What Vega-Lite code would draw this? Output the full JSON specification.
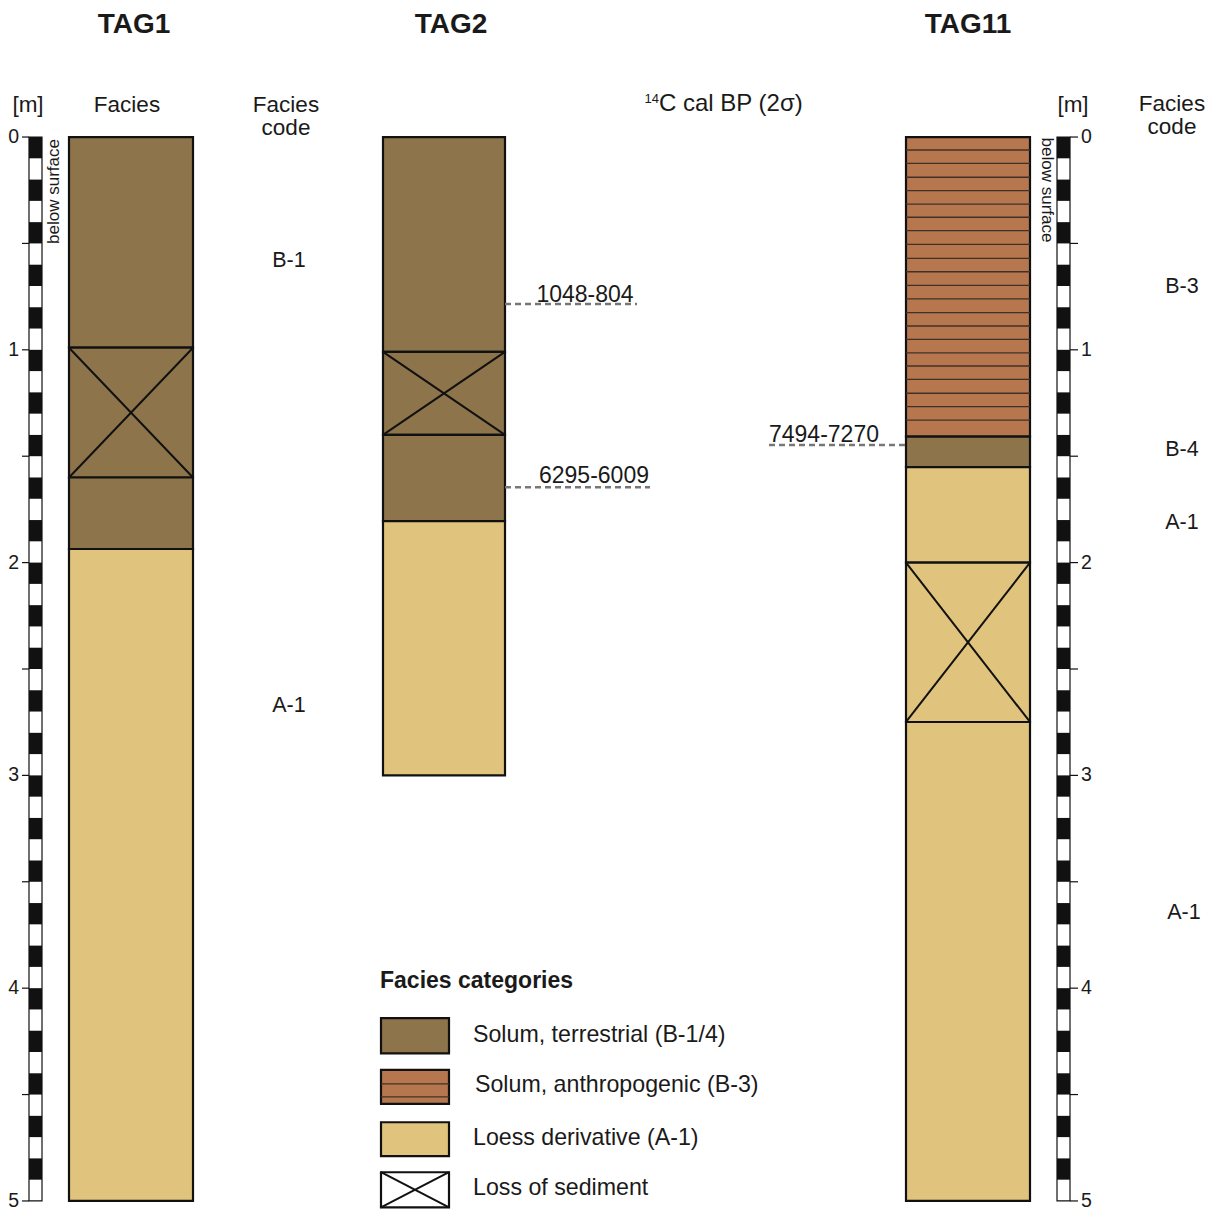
{
  "$schema": "https://vega.github.io/schema/vega-lite/v6.json",
  "width": 1221,
  "height": 1215,
  "autosize": {"type": "fit", "contains": "padding"},
  "padding": 0,
  "background": "white",
  "config": {"view": {"stroke": null}, "text": {"font": "Liberation Sans", "color": "#1a1a1a"}},
  "datasets": {
    "strata": [
      {"col": "TAG1", "x": 69, "x2": 193, "y": 0, "y2": 0.99, "facies": "Solum, terrestrial"},
      {"col": "TAG1", "x": 69, "x2": 193, "y": 0.99, "y2": 1.6, "facies": "Solum, terrestrial"},
      {"col": "TAG1", "x": 69, "x2": 193, "y": 1.6, "y2": 1.936, "facies": "Solum, terrestrial"},
      {"col": "TAG1", "x": 69, "x2": 193, "y": 1.936, "y2": 5.0, "facies": "Loess derivative"},
      {"col": "TAG2", "x": 383, "x2": 505, "y": 0, "y2": 1.01, "facies": "Solum, terrestrial"},
      {"col": "TAG2", "x": 383, "x2": 505, "y": 1.01, "y2": 1.4, "facies": "Solum, terrestrial"},
      {"col": "TAG2", "x": 383, "x2": 505, "y": 1.4, "y2": 1.805, "facies": "Solum, terrestrial"},
      {"col": "TAG2", "x": 383, "x2": 505, "y": 1.805, "y2": 3.0, "facies": "Loess derivative"},
      {"col": "TAG11", "x": 906, "x2": 1030, "y": 0, "y2": 1.408, "facies": "Solum, anthropogenic"},
      {"col": "TAG11", "x": 906, "x2": 1030, "y": 1.408, "y2": 1.551, "facies": "Solum, terrestrial"},
      {"col": "TAG11", "x": 906, "x2": 1030, "y": 1.551, "y2": 2.0, "facies": "Loess derivative"},
      {"col": "TAG11", "x": 906, "x2": 1030, "y": 2.0, "y2": 2.749, "facies": "Loess derivative"},
      {"col": "TAG11", "x": 906, "x2": 1030, "y": 2.749, "y2": 5.0, "facies": "Loess derivative"},
      {"col": "legend", "x": 381, "x2": 449, "y": 4.141, "y2": 4.306, "facies": "Solum, terrestrial"},
      {"col": "legend", "x": 381, "x2": 449, "y": 4.384, "y2": 4.544, "facies": "Solum, anthropogenic"},
      {"col": "legend", "x": 381, "x2": 449, "y": 4.63, "y2": 4.789, "facies": "Loess derivative"},
      {"col": "legend", "x": 381, "x2": 449, "y": 4.865, "y2": 5.03, "facies": "Loss of sediment"}
    ],
    "hatch": [
      {"x": 906, "x2": 1030, "y": 0.061}, {"x": 906, "x2": 1030, "y": 0.124}, {"x": 906, "x2": 1030, "y": 0.189},
      {"x": 906, "x2": 1030, "y": 0.252}, {"x": 906, "x2": 1030, "y": 0.315}, {"x": 906, "x2": 1030, "y": 0.377},
      {"x": 906, "x2": 1030, "y": 0.44}, {"x": 906, "x2": 1030, "y": 0.504}, {"x": 906, "x2": 1030, "y": 0.57},
      {"x": 906, "x2": 1030, "y": 0.633}, {"x": 906, "x2": 1030, "y": 0.697}, {"x": 906, "x2": 1030, "y": 0.761},
      {"x": 906, "x2": 1030, "y": 0.825}, {"x": 906, "x2": 1030, "y": 0.888}, {"x": 906, "x2": 1030, "y": 0.951},
      {"x": 906, "x2": 1030, "y": 1.014}, {"x": 906, "x2": 1030, "y": 1.076}, {"x": 906, "x2": 1030, "y": 1.139},
      {"x": 906, "x2": 1030, "y": 1.204}, {"x": 906, "x2": 1030, "y": 1.267}, {"x": 906, "x2": 1030, "y": 1.33},
      {"x": 381, "x2": 449, "y": 4.45}, {"x": 381, "x2": 449, "y": 4.511}
    ],
    "crosses": [
      {"x": 69, "x2": 193, "y": 0.99, "y2": 1.6}, {"x": 69, "x2": 193, "y": 1.6, "y2": 0.99},
      {"x": 383, "x2": 505, "y": 1.01, "y2": 1.4}, {"x": 383, "x2": 505, "y": 1.4, "y2": 1.01},
      {"x": 906, "x2": 1030, "y": 2.0, "y2": 2.749}, {"x": 906, "x2": 1030, "y": 2.749, "y2": 2.0},
      {"x": 381, "x2": 449, "y": 4.865, "y2": 5.03}, {"x": 381, "x2": 449, "y": 5.03, "y2": 4.865}
    ],
    "bars": [
      {"x": 29, "x2": 42, "y": 0, "y2": 5}, {"x": 1057, "x2": 1070, "y": 0, "y2": 5}
    ],
    "segments": [
      {"x": 29, "x2": 42, "y": 0.0, "y2": 0.1}, {"x": 29, "x2": 42, "y": 0.2, "y2": 0.3}, {"x": 29, "x2": 42, "y": 0.4, "y2": 0.5},
      {"x": 29, "x2": 42, "y": 0.6, "y2": 0.7}, {"x": 29, "x2": 42, "y": 0.8, "y2": 0.9}, {"x": 29, "x2": 42, "y": 1.0, "y2": 1.1},
      {"x": 29, "x2": 42, "y": 1.2, "y2": 1.3}, {"x": 29, "x2": 42, "y": 1.4, "y2": 1.5}, {"x": 29, "x2": 42, "y": 1.6, "y2": 1.7},
      {"x": 29, "x2": 42, "y": 1.8, "y2": 1.9}, {"x": 29, "x2": 42, "y": 2.0, "y2": 2.1}, {"x": 29, "x2": 42, "y": 2.2, "y2": 2.3},
      {"x": 29, "x2": 42, "y": 2.4, "y2": 2.5}, {"x": 29, "x2": 42, "y": 2.6, "y2": 2.7}, {"x": 29, "x2": 42, "y": 2.8, "y2": 2.9},
      {"x": 29, "x2": 42, "y": 3.0, "y2": 3.1}, {"x": 29, "x2": 42, "y": 3.2, "y2": 3.3}, {"x": 29, "x2": 42, "y": 3.4, "y2": 3.5},
      {"x": 29, "x2": 42, "y": 3.6, "y2": 3.7}, {"x": 29, "x2": 42, "y": 3.8, "y2": 3.9}, {"x": 29, "x2": 42, "y": 4.0, "y2": 4.1},
      {"x": 29, "x2": 42, "y": 4.2, "y2": 4.3}, {"x": 29, "x2": 42, "y": 4.4, "y2": 4.5}, {"x": 29, "x2": 42, "y": 4.6, "y2": 4.7},
      {"x": 29, "x2": 42, "y": 4.8, "y2": 4.9},
      {"x": 1057, "x2": 1070, "y": 0.0, "y2": 0.1}, {"x": 1057, "x2": 1070, "y": 0.2, "y2": 0.3}, {"x": 1057, "x2": 1070, "y": 0.4, "y2": 0.5},
      {"x": 1057, "x2": 1070, "y": 0.6, "y2": 0.7}, {"x": 1057, "x2": 1070, "y": 0.8, "y2": 0.9}, {"x": 1057, "x2": 1070, "y": 1.0, "y2": 1.1},
      {"x": 1057, "x2": 1070, "y": 1.2, "y2": 1.3}, {"x": 1057, "x2": 1070, "y": 1.4, "y2": 1.5}, {"x": 1057, "x2": 1070, "y": 1.6, "y2": 1.7},
      {"x": 1057, "x2": 1070, "y": 1.8, "y2": 1.9}, {"x": 1057, "x2": 1070, "y": 2.0, "y2": 2.1}, {"x": 1057, "x2": 1070, "y": 2.2, "y2": 2.3},
      {"x": 1057, "x2": 1070, "y": 2.4, "y2": 2.5}, {"x": 1057, "x2": 1070, "y": 2.6, "y2": 2.7}, {"x": 1057, "x2": 1070, "y": 2.8, "y2": 2.9},
      {"x": 1057, "x2": 1070, "y": 3.0, "y2": 3.1}, {"x": 1057, "x2": 1070, "y": 3.2, "y2": 3.3}, {"x": 1057, "x2": 1070, "y": 3.4, "y2": 3.5},
      {"x": 1057, "x2": 1070, "y": 3.6, "y2": 3.7}, {"x": 1057, "x2": 1070, "y": 3.8, "y2": 3.9}, {"x": 1057, "x2": 1070, "y": 4.0, "y2": 4.1},
      {"x": 1057, "x2": 1070, "y": 4.2, "y2": 4.3}, {"x": 1057, "x2": 1070, "y": 4.4, "y2": 4.5}, {"x": 1057, "x2": 1070, "y": 4.6, "y2": 4.7},
      {"x": 1057, "x2": 1070, "y": 4.8, "y2": 4.9}
    ],
    "ticks": [
      {"x": 22, "x2": 29, "y": 0}, {"x": 22, "x2": 29, "y": 0.5}, {"x": 22, "x2": 29, "y": 1}, {"x": 22, "x2": 29, "y": 1.5},
      {"x": 22, "x2": 29, "y": 2}, {"x": 22, "x2": 29, "y": 2.5}, {"x": 22, "x2": 29, "y": 3}, {"x": 22, "x2": 29, "y": 3.5},
      {"x": 22, "x2": 29, "y": 4}, {"x": 22, "x2": 29, "y": 4.5}, {"x": 22, "x2": 29, "y": 5},
      {"x": 1070, "x2": 1078, "y": 0}, {"x": 1070, "x2": 1078, "y": 0.5}, {"x": 1070, "x2": 1078, "y": 1}, {"x": 1070, "x2": 1078, "y": 1.5},
      {"x": 1070, "x2": 1078, "y": 2}, {"x": 1070, "x2": 1078, "y": 2.5}, {"x": 1070, "x2": 1078, "y": 3}, {"x": 1070, "x2": 1078, "y": 3.5},
      {"x": 1070, "x2": 1078, "y": 4}, {"x": 1070, "x2": 1078, "y": 4.5}, {"x": 1070, "x2": 1078, "y": 5}
    ],
    "leftLabels": [
      {"x": 19, "y": 0, "t": "0"}, {"x": 19, "y": 1, "t": "1"}, {"x": 19, "y": 2, "t": "2"},
      {"x": 19, "y": 3, "t": "3"}, {"x": 19, "y": 4, "t": "4"}, {"x": 19, "y": 5, "t": "5"}
    ],
    "rightLabels": [
      {"x": 1081, "y": 0, "t": "0"}, {"x": 1081, "y": 1, "t": "1"}, {"x": 1081, "y": 2, "t": "2"},
      {"x": 1081, "y": 3, "t": "3"}, {"x": 1081, "y": 4, "t": "4"}, {"x": 1081, "y": 5, "t": "5"}
    ],
    "dates": [
      {"x": 505, "x2": 637, "y": 0.785, "lx": 585, "ly": 0.774, "t": "1048-804"},
      {"x": 505, "x2": 650, "y": 1.646, "lx": 594, "ly": 1.626, "t": "6295-6009"},
      {"x": 769, "x2": 906, "y": 1.447, "lx": 824, "ly": 1.431, "t": "7494-7270"}
    ],
    "titles": [
      {"x": 134, "y": -0.489, "t": "TAG1"},
      {"x": 451, "y": -0.489, "t": "TAG2"},
      {"x": 968, "y": -0.489, "t": "TAG11"}
    ],
    "headings": [
      {"x": 28, "y": -0.1175, "t": "[m]"},
      {"x": 127, "y": -0.1175, "t": "Facies"},
      {"x": 286, "y": -0.1175, "t": "Facies"},
      {"x": 286, "y": -0.0095, "t": "code"},
      {"x": 1073, "y": -0.1175, "t": "[m]"},
      {"x": 1172, "y": -0.122, "t": "Facies"},
      {"x": 1172, "y": -0.014, "t": "code"}
    ],
    "codes": [
      {"x": 289, "y": 0.611, "t": "B-1"},
      {"x": 289, "y": 2.702, "t": "A-1"},
      {"x": 1182, "y": 0.735, "t": "B-3"},
      {"x": 1182, "y": 1.501, "t": "B-4"},
      {"x": 1182, "y": 1.84, "t": "A-1"},
      {"x": 1184, "y": 3.677, "t": "A-1"}
    ],
    "legendText": [
      {"x": 473, "y": 4.251, "t": "Solum, terrestrial (B-1/4)"},
      {"x": 475, "y": 4.486, "t": "Solum, anthropogenic (B-3)"},
      {"x": 473, "y": 4.737, "t": "Loess derivative (A-1)"},
      {"x": 473, "y": 4.972, "t": "Loss of sediment"}
    ]
  },
  "encoding": {
    "x": {"field": "x", "type": "quantitative", "scale": {"domain": [0, 1221], "nice": false, "zero": false}, "axis": null},
    "y": {"field": "y", "type": "quantitative", "scale": {"domain": [-0.644, 5.066], "nice": false, "zero": false, "reverse": true}, "axis": null}
  },
  "layer": [
    {
      "data": {"name": "bars"},
      "mark": {"type": "rect", "fill": "white", "stroke": "#111", "strokeWidth": 1.2},
      "encoding": {"x2": {"field": "x2"}, "y2": {"field": "y2"}}
    },
    {
      "data": {"name": "segments"},
      "mark": {"type": "rect", "fill": "#111", "stroke": null},
      "encoding": {"x2": {"field": "x2"}, "y2": {"field": "y2"}}
    },
    {
      "data": {"name": "ticks"},
      "mark": {"type": "rule", "stroke": "#111", "strokeWidth": 1.2},
      "encoding": {"x2": {"field": "x2"}}
    },
    {
      "data": {"name": "leftLabels"},
      "mark": {"type": "text", "align": "right", "baseline": "middle", "fontSize": 19.5},
      "encoding": {"text": {"field": "t"}}
    },
    {
      "data": {"name": "rightLabels"},
      "mark": {"type": "text", "align": "left", "baseline": "middle", "fontSize": 19.5},
      "encoding": {"text": {"field": "t"}}
    },
    {
      "data": {"values": [{"x": 54, "y": 0.256, "t": "below surface"}]},
      "mark": {"type": "text", "align": "center", "baseline": "middle", "angle": 270, "fontSize": 17},
      "encoding": {"text": {"field": "t"}}
    },
    {
      "data": {"values": [{"x": 1047, "y": 0.249, "t": "below surface"}]},
      "mark": {"type": "text", "align": "center", "baseline": "middle", "angle": 90, "fontSize": 17},
      "encoding": {"text": {"field": "t"}}
    },
    {
      "data": {"name": "strata"},
      "mark": {"type": "rect", "stroke": "#111", "strokeWidth": 2.2},
      "encoding": {
        "x2": {"field": "x2"},
        "y2": {"field": "y2"},
        "fill": {
          "field": "facies",
          "type": "nominal",
          "scale": {
            "domain": ["Solum, terrestrial", "Solum, anthropogenic", "Loess derivative", "Loss of sediment"],
            "range": ["#8d744b", "#b6774f", "#e0c47e", "#ffffff"]
          },
          "legend": null
        }
      }
    },
    {
      "data": {"name": "hatch"},
      "mark": {"type": "rule", "stroke": "#3f3128", "strokeWidth": 1.3},
      "encoding": {"x2": {"field": "x2"}}
    },
    {
      "data": {"name": "crosses"},
      "mark": {"type": "rule", "stroke": "#111", "strokeWidth": 2},
      "encoding": {"x2": {"field": "x2"}, "y2": {"field": "y2"}}
    },
    {
      "data": {"name": "dates"},
      "mark": {"type": "rule", "stroke": "#777777", "strokeWidth": 2.5, "strokeDash": [6, 4]},
      "encoding": {"x2": {"field": "x2"}}
    },
    {
      "data": {"name": "dates"},
      "mark": {"type": "text", "align": "center", "baseline": "alphabetic", "fontSize": 23},
      "encoding": {
        "x": {"field": "lx", "type": "quantitative"},
        "y": {"field": "ly", "type": "quantitative"},
        "text": {"field": "t"}
      }
    },
    {
      "data": {"name": "titles"},
      "mark": {"type": "text", "align": "center", "baseline": "alphabetic", "fontSize": 28, "fontWeight": "bold"},
      "encoding": {"text": {"field": "t"}}
    },
    {
      "data": {"name": "headings"},
      "mark": {"type": "text", "align": "center", "baseline": "alphabetic", "fontSize": 22.5},
      "encoding": {"text": {"field": "t"}}
    },
    {
      "data": {"values": [{"x": 659, "y": -0.12, "t": "C cal BP (2σ)"}]},
      "mark": {"type": "text", "align": "left", "baseline": "alphabetic", "fontSize": 24},
      "encoding": {"text": {"field": "t"}}
    },
    {
      "data": {"values": [{"x": 659, "y": -0.16, "t": "14"}]},
      "mark": {"type": "text", "align": "right", "baseline": "alphabetic", "fontSize": 13},
      "encoding": {"text": {"field": "t"}}
    },
    {
      "data": {"name": "codes"},
      "mark": {"type": "text", "align": "center", "baseline": "alphabetic", "fontSize": 21.5},
      "encoding": {"text": {"field": "t"}}
    },
    {
      "data": {"values": [{"x": 380, "y": 3.997, "t": "Facies categories"}]},
      "mark": {"type": "text", "align": "left", "baseline": "alphabetic", "fontSize": 23, "fontWeight": "bold"},
      "encoding": {"text": {"field": "t"}}
    },
    {
      "data": {"name": "legendText"},
      "mark": {"type": "text", "align": "left", "baseline": "alphabetic", "fontSize": 23.2},
      "encoding": {"text": {"field": "t"}}
    }
  ]
}
